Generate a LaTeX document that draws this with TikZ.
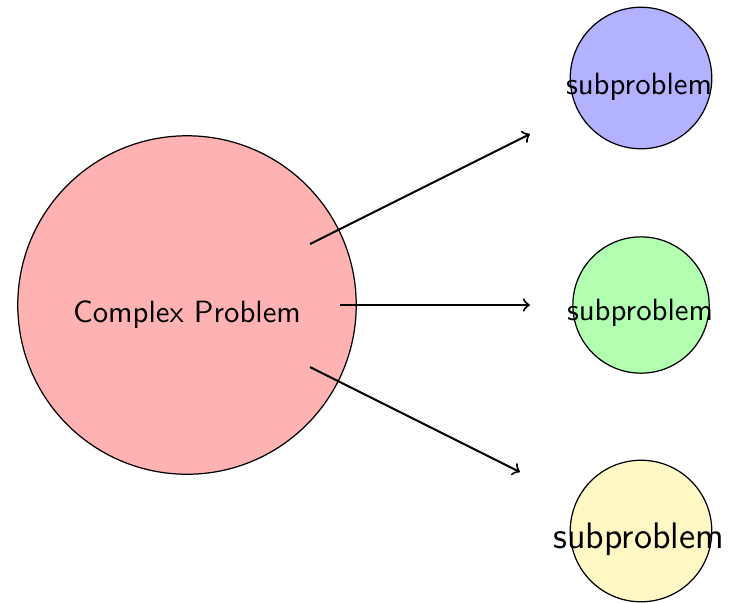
\documentclass[tikz,border=0pt]{standalone}
\definecolor{paleyellow}{RGB}{255,248,196}
\begin{document}
\begin{tikzpicture}[x=0.325pt, y=-0.325pt,
  disc/.style={circle, draw=black, line width=0.4pt, inner sep=0pt},
  lbl/.style={font=\sffamily, anchor=base, inner sep=0pt},
  link/.style={->, line width=0.65pt}]
  \useasboundingbox (0,0) rectangle (730,602);

  % the problem and its three parts
  \node[disc, fill=red!30, minimum size=110pt] (cp) at (187,305) {};
  \node[disc, fill=blue!30, minimum size=46pt] (s1) at (641,78) {};
  \node[disc, fill=green!30, minimum size=44.3pt] (s2) at (641,305) {};
  \node[disc, fill=paleyellow, minimum size=46pt] (s3) at (641,531) {};

  % texts
  \node[lbl] (cpt) at (187,322) {Complex Problem};
  \node[lbl] (s1t) at (639,94) {subproblem};
  \node[lbl] (s2t) at (640,320) {subproblem};
  \node[lbl, font=\sffamily\large] (s3t) at (638.5,548) {subproblem};

  % arrow ends
  \coordinate (a1) at (310,244);
  \coordinate (b1) at (530,134);
  \coordinate (a2) at (340,305);
  \coordinate (b2) at (530,305);
  \coordinate (a3) at (310,367);
  \coordinate (b3) at (520,472);

  \draw[link] (a1) -- (b1);
  \draw[link] (a2) -- (b2);
  \draw[link] (a3) -- (b3);
\end{tikzpicture}
\end{document}
